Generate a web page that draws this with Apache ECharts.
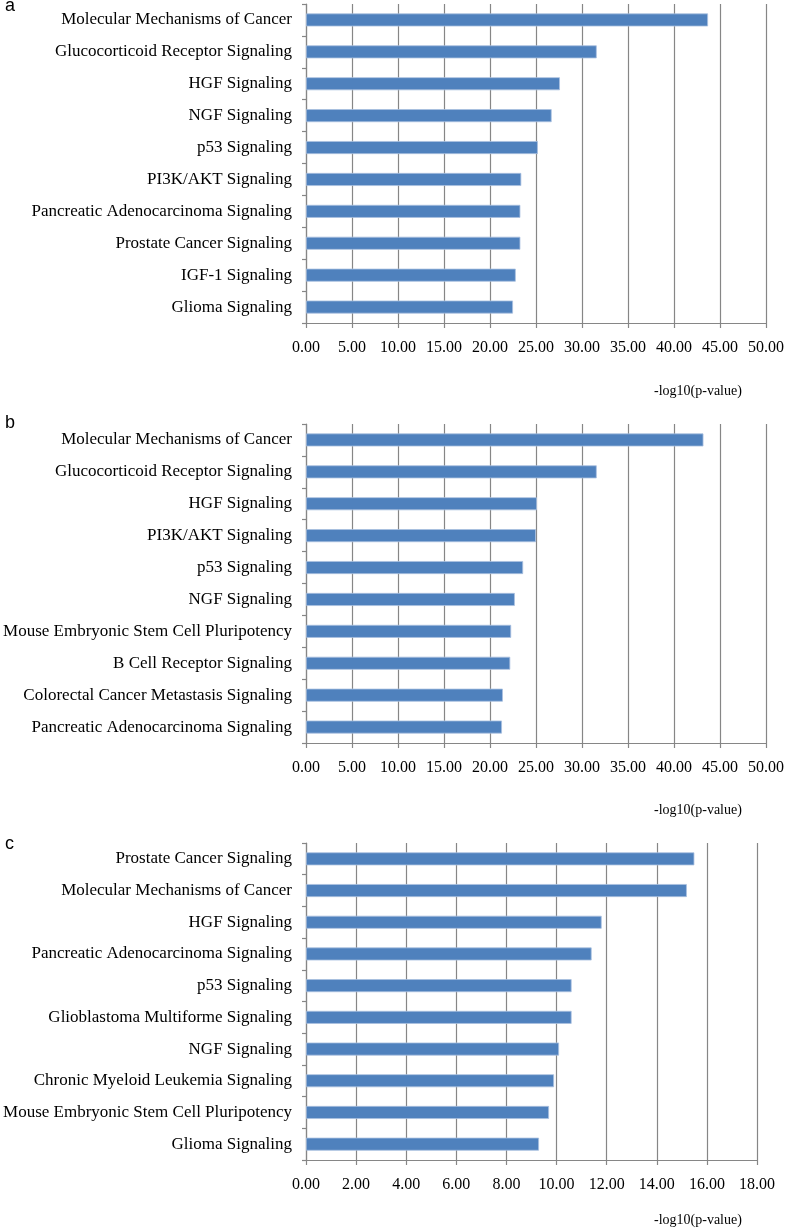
<!DOCTYPE html>
<html>
<head>
<meta charset="utf-8">
<script src="https://cdn.jsdelivr.net/npm/echarts@6/dist/echarts.min.js"></script>
<style>
html,body{margin:0;padding:0;background:#fff;}
#chart{width:787px;height:1230px;}
</style>
</head>
<body>
<div id="chart"></div>
<script>
const catsA = ["Molecular Mechanisms of Cancer","Glucocorticoid Receptor Signaling","HGF Signaling","NGF Signaling","p53 Signaling","PI3K/AKT Signaling","Pancreatic Adenocarcinoma Signaling","Prostate Cancer Signaling","IGF-1 Signaling","Glioma Signaling"];
const valsA = [43.7, 31.6, 27.6, 26.7, 25.2, 23.4, 23.3, 23.3, 22.8, 22.5];

const catsB = ["Molecular Mechanisms of Cancer","Glucocorticoid Receptor Signaling","HGF Signaling","PI3K/AKT Signaling","p53 Signaling","NGF Signaling","Mouse Embryonic Stem Cell Pluripotency","B Cell Receptor Signaling","Colorectal Cancer Metastasis Signaling","Pancreatic Adenocarcinoma Signaling"];
const valsB = [43.2, 31.6, 25.1, 25.0, 23.6, 22.7, 22.3, 22.2, 21.4, 21.3];

const catsC = ["Prostate Cancer Signaling","Molecular Mechanisms of Cancer","HGF Signaling","Pancreatic Adenocarcinoma Signaling","p53 Signaling","Glioblastoma Multiforme Signaling","NGF Signaling","Chronic Myeloid Leukemia Signaling","Mouse Embryonic Stem Cell Pluripotency","Glioma Signaling"];
const valsC = [15.5, 15.2, 11.8, 11.4, 10.6, 10.6, 10.1, 9.9, 9.7, 9.3];

const panelLetters = ["a","b","c"];
const axisTitle = "-log10(p-value)";

const serif = '"Liberation Serif","Times New Roman",serif';
const sans = '"Liberation Sans", Arial, sans-serif';
const grey = '#868686';

const panels = [
  {cats: catsA, vals: valsA, max: 50, interval: 5, grid: {left: 306, top: 4, width: 460, height: 319}, letterY: 6, titleY: 391},
  {cats: catsB, vals: valsB, max: 50, interval: 5, grid: {left: 306, top: 424, width: 460, height: 319}, letterY: 423, titleY: 810},
  {cats: catsC, vals: valsC, max: 18, interval: 2, grid: {left: 306, top: 843, width: 451, height: 317}, letterY: 844, titleY: 1220}
];

const chart = echarts.init(document.getElementById('chart'), null, {renderer: 'canvas'});

const graphics = [];
panels.forEach((p, i) => {
  graphics.push({type: 'text', x: 5, y: p.letterY,
    style: {text: panelLetters[i], font: '18px ' + sans, fill: '#000', verticalAlign: 'middle', textVerticalAlign: 'middle'}});
  graphics.push({type: 'text', x: 654, y: p.titleY,
    style: {text: axisTitle, font: '14px ' + serif, fill: '#000', verticalAlign: 'middle', textVerticalAlign: 'middle'}});
});

const option = {
  animation: false,
  backgroundColor: '#fff',
  grid: panels.map(p => Object.assign({containLabel: false}, p.grid)),
  xAxis: panels.map((p, i) => ({
    type: 'value', gridIndex: i, min: 0, max: p.max, interval: p.interval,
    axisLine: {show: true, lineStyle: {color: grey, width: 1.2}},
    axisTick: {show: true, length: 5, lineStyle: {color: grey, width: 1.2}},
    splitLine: {show: true, lineStyle: {color: grey, width: 1.2}},
    axisLabel: {color: '#000', fontFamily: serif, fontSize: 16, margin: 17,
      formatter: v => v.toFixed(2)}
  })),
  yAxis: panels.map((p, i) => ({
    type: 'category', gridIndex: i, data: p.cats, inverse: true,
    axisLine: {show: true, lineStyle: {color: grey, width: 1.2}},
    axisTick: {show: true, length: 4, lineStyle: {color: grey, width: 1.2}},
    splitLine: {show: false},
    axisLabel: {color: '#000', fontFamily: serif, fontSize: 17, margin: 14}
  })),
  series: panels.map((p, i) => ({
    type: 'bar', xAxisIndex: i, yAxisIndex: i, data: p.vals,
    barWidth: 13,
    itemStyle: {color: '#4F81BD', borderColor: '#A9C0E0', borderWidth: 0.8}
  })),
  graphic: graphics
};
chart.setOption(option);
</script>
</body>
</html>
